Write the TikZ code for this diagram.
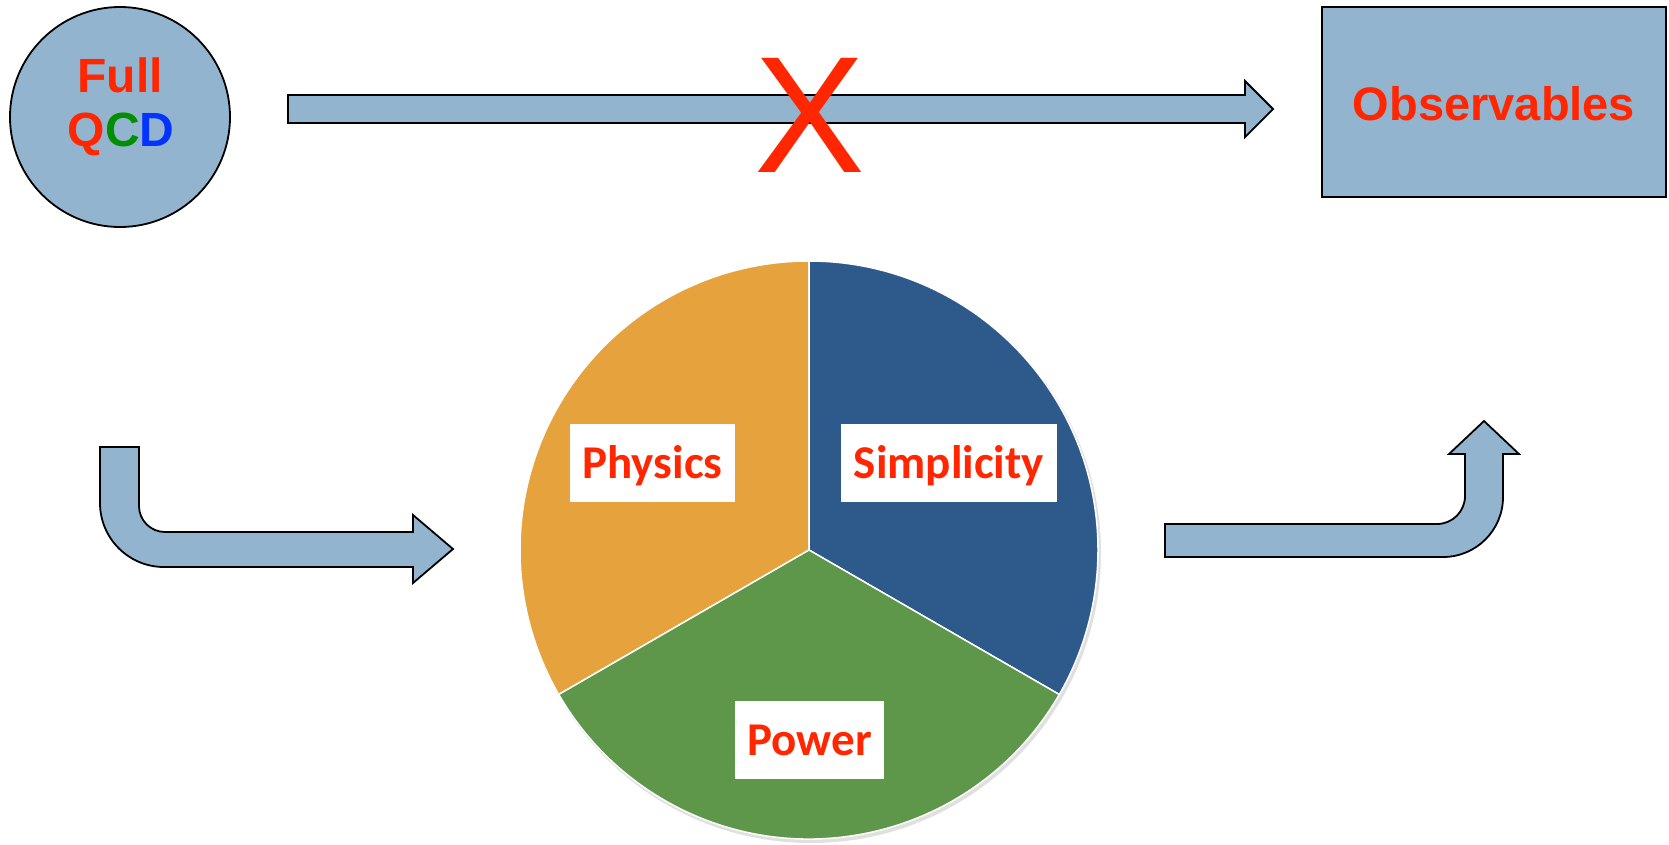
\documentclass[tikz,border=0pt]{standalone}
\usepackage{fontspec}
\setmainfont{Liberation Sans}
\newfontfamily\calibri{Carlito}
\definecolor{ArrowBlue}{HTML}{92B4CE}
\definecolor{TxtRed}{HTML}{FF2600}
\definecolor{QGreen}{HTML}{008F00}
\definecolor{QBlue}{HTML}{0433FF}
\definecolor{PieOrange}{HTML}{E6A23D}
\definecolor{PieBlue}{HTML}{2E5A8B}
\definecolor{PieGreen}{HTML}{5E974A}
\usetikzlibrary{positioning, calc}

\begin{document}
\begin{tikzpicture}[x=1pt, y=-1pt,
    fatarrow/.style={fill=ArrowBlue, draw=black, line width=1.8pt, line join=miter},
    slice/.style={draw=white, line width=1.5pt, line join=round},
    piebox/.style={fill=white, inner sep=0pt, minimum height=78pt,
      text height=30pt, text depth=0pt, text=TxtRed, font=\calibri\fontsize{47}{50}\selectfont\bfseries}]
  \useasboundingbox (0,0) rectangle (1669,844);
  % full theory and the observables
  \node (qcd) [circle, draw, line width=1.8pt, fill=ArrowBlue, minimum size=220pt] at (120,117) {};
  \node (full) [anchor=base, inner sep=0pt, text=TxtRed, font=\fontsize{48}{50}\selectfont\bfseries]
    at (120,92) {Full};
  \node (qcdtxt) [anchor=base, inner sep=0pt, font=\fontsize{48}{50}\selectfont\bfseries]
    at (121,146) {\textcolor{TxtRed}{Q}\textcolor{QGreen}{C}\textcolor{QBlue}{D}};
  \node (obs) [rectangle, draw, line width=2.6pt, fill=ArrowBlue, minimum width=344pt, minimum height=190pt]
    at (1494,102) {};
  \node (obstxt) [anchor=base, inner sep=0pt, text=TxtRed, font=\fontsize{47}{50}\selectfont\bfseries]
    at (1494,120) {Observables};
  % direct route, crossed out
  \draw[fatarrow] (288,95) -- (1245,95) -- (1245,81) -- (1273,109) -- (1245,137) -- (1245,123) -- (288,123) -- cycle;
  \node (cross) [anchor=base, inner sep=0pt, text=TxtRed, font=\fontsize{166}{170}\selectfont]
    at (809.5,172) {X};
  % pie: r = 289 around (809,550)
  \fill[black!12] (811,553) circle (290);
  \draw[slice, fill=PieOrange] (809,550) -- (809,261) arc[start angle=270, end angle=150, radius=289] -- cycle;
  \draw[slice, fill=PieBlue] (809,550) -- (809,261) arc[start angle=-90, end angle=30, radius=289] -- cycle;
  \draw[slice, fill=PieGreen] (809,550) -- ($(809,550)+(30:289)$) arc[start angle=30, end angle=150, radius=289] -- cycle;
  \node (physics) [piebox, minimum width=165pt] at (652.5,463) {Physics};
  \node (simplicity) [piebox, minimum width=216pt] at (949,463) {Simplicity};
  \node (power) [piebox, minimum width=149pt] at (809.5,740) {Power};
  % bent arrows in and out
  \draw[fatarrow] (100,447) -- (139,447) -- (139,506) arc[start angle=180, end angle=90, radius=26]
    -- (413,532) -- (413,515) -- (453,549) -- (413,583) -- (413,567) -- (164,567)
    arc[start angle=90, end angle=180, radius=64] -- cycle;
  \draw[fatarrow] (1165,524) -- (1437,524) arc[start angle=90, end angle=0, radius=28]
    -- (1465,454) -- (1449,454) -- (1484,421) -- (1519,454) -- (1503,454) -- (1503,497)
    arc[start angle=0, end angle=90, radius=60] -- (1165,557) -- cycle;
\end{tikzpicture}
\end{document}
